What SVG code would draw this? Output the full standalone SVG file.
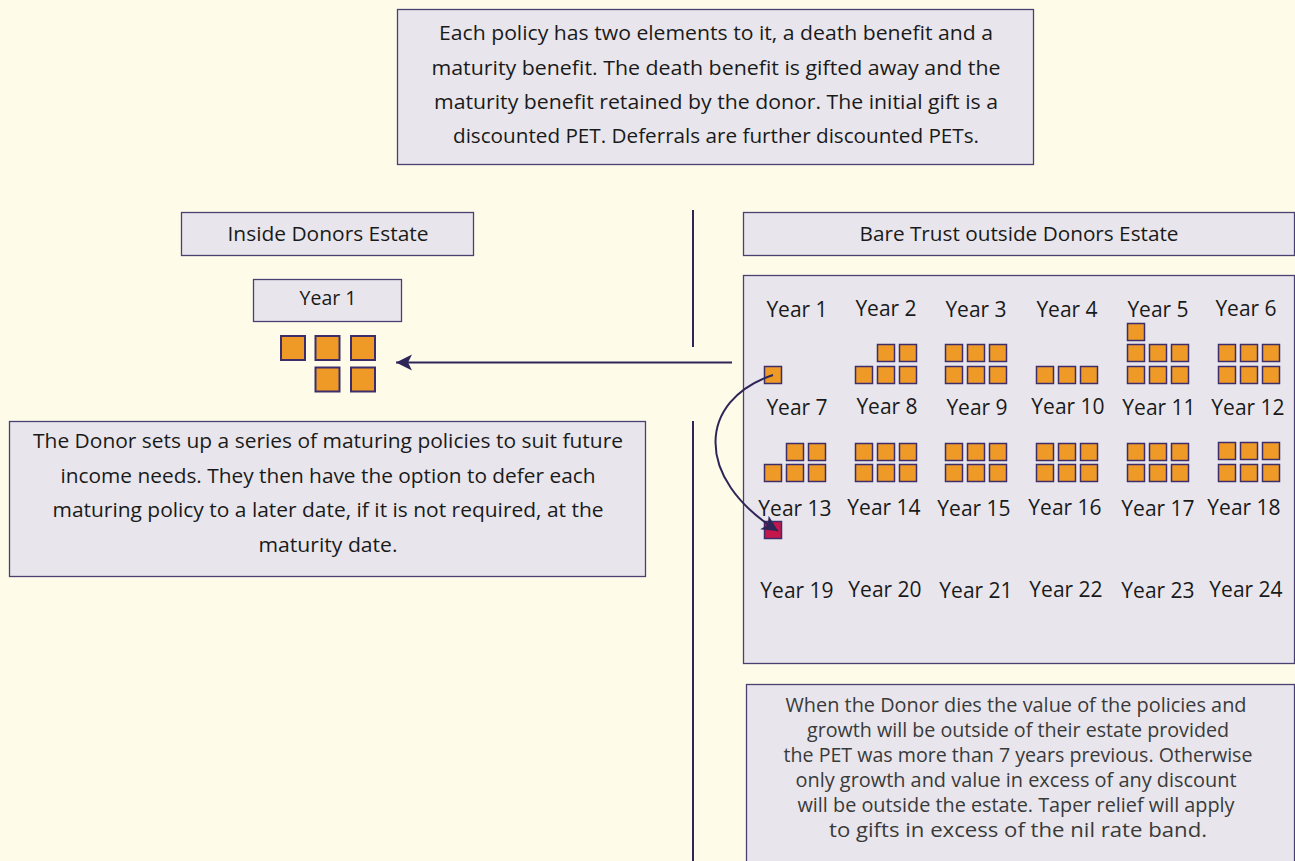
<svg xmlns="http://www.w3.org/2000/svg" width="1295" height="861" viewBox="0 0 1295 861">
<style>
.box{fill:#E8E6EC;stroke:#4A4172;stroke-width:1.3}
.t{font-family:"Open Sans","Liberation Sans",sans-serif;fill:#1A1A1A;text-anchor:middle}
.body{font-size:19.5px}
.soft{font-size:19.5px;fill:#3A3A3A}
.yr{font-size:21px}
.sq{fill:#EF9A26;stroke:#3D2E6B;stroke-width:1.5}
.big{fill:#EF9A26;stroke:#3D2E6B;stroke-width:2}
.red{fill:#C4174B;stroke:#3D2E6B;stroke-width:1.5}
.ln{stroke:#2E2558;stroke-width:2;fill:none}
</style>
<defs>
<marker id="ah" markerUnits="userSpaceOnUse" markerWidth="20" markerHeight="20" viewBox="-1 -10 20 20" refX="16" refY="0" orient="auto">
<path d="M0,-8 L16,0 L0,8 L4,0 Z" fill="#2E2558"/>
</marker>
</defs>
<rect width="1295" height="861" fill="#FEFCE9"/>

<g id="intro">
<rect class="box" x="397.5" y="9.5" width="636" height="155"/>
<text class="t body" x="716" y="40" textLength="554" lengthAdjust="spacingAndGlyphs">Each policy has two elements to it, a death benefit and a</text>
<text class="t body" x="716" y="75" textLength="569" lengthAdjust="spacingAndGlyphs">maturity benefit. The death benefit is gifted away and the</text>
<text class="t body" x="716" y="109" textLength="564" lengthAdjust="spacingAndGlyphs">maturity benefit retained by the donor. The initial gift is a</text>
<text class="t body" x="716" y="143" textLength="526" lengthAdjust="spacingAndGlyphs">discounted PET. Deferrals are further discounted PETs.</text>
</g>

<g id="dividers">
<line class="ln" x1="693" y1="210" x2="693" y2="347"/>
<line class="ln" x1="693" y1="421" x2="693" y2="861"/>
</g>

<g id="inside-header">
<rect class="box" x="181.5" y="212.5" width="292" height="43"/>
<text class="t body" x="328" y="241" textLength="201" lengthAdjust="spacingAndGlyphs">Inside Donors Estate</text>
</g>

<g id="bare-header">
<rect class="box" x="743.5" y="212.5" width="551" height="43"/>
<text class="t body" x="1019" y="241" textLength="319" lengthAdjust="spacingAndGlyphs">Bare Trust outside Donors Estate</text>
</g>

<g id="year1-inside">
<rect class="box" x="253.5" y="279.5" width="148" height="42"/>
<text class="t body" x="328" y="305">Year 1</text>
<rect class="big" x="281" y="336" width="24" height="24"/>
<rect class="big" x="315.5" y="336" width="24" height="24"/>
<rect class="big" x="351" y="336" width="24" height="24"/>
<rect class="big" x="315.5" y="367.5" width="24" height="24"/>
<rect class="big" x="351" y="367.5" width="24" height="24"/>
</g>

<g id="donor-note">
<rect class="box" x="9.5" y="421.5" width="636" height="155"/>
<text class="t body" x="328" y="448" textLength="590" lengthAdjust="spacingAndGlyphs">The Donor sets up a series of maturing policies to suit future</text>
<text class="t body" x="328" y="483" textLength="535" lengthAdjust="spacingAndGlyphs">income needs. They then have the option to defer each</text>
<text class="t body" x="328" y="517" textLength="551" lengthAdjust="spacingAndGlyphs">maturing policy to a later date, if it is not required, at the</text>
<text class="t body" x="328" y="552" textLength="139" lengthAdjust="spacingAndGlyphs">maturity date.</text>
</g>

<g id="trust-grid">
<rect class="box" x="743.5" y="275.5" width="551" height="388"/>
<g class="t yr">
<text x="797" y="317">Year 1</text>
<text x="886" y="316">Year 2</text>
<text x="976" y="317">Year 3</text>
<text x="1067" y="317">Year 4</text>
<text x="1158" y="317">Year 5</text>
<text x="1246" y="316">Year 6</text>
<text x="797" y="415">Year 7</text>
<text x="887" y="414">Year 8</text>
<text x="977" y="415">Year 9</text>
<text x="1068" y="414">Year 10</text>
<text x="1159" y="415">Year 11</text>
<text x="1248" y="415">Year 12</text>
<text x="795" y="516">Year 13</text>
<text x="884" y="515">Year 14</text>
<text x="974" y="516">Year 15</text>
<text x="1065" y="515">Year 16</text>
<text x="1158" y="516">Year 17</text>
<text x="1244" y="515">Year 18</text>
<text x="797" y="598">Year 19</text>
<text x="885" y="597">Year 20</text>
<text x="976" y="598">Year 21</text>
<text x="1066" y="597">Year 22</text>
<text x="1158" y="598">Year 23</text>
<text x="1246" y="597">Year 24</text>
</g>
<g id="squares">
<rect class="sq" x="764.5" y="366.5" width="17" height="17"/>
<rect class="sq" x="855.5" y="366.5" width="17" height="17"/>
<rect class="sq" x="877.5" y="366.5" width="17" height="17"/>
<rect class="sq" x="899.5" y="366.5" width="17" height="17"/>
<rect class="sq" x="877.5" y="344.5" width="17" height="17"/>
<rect class="sq" x="899.5" y="344.5" width="17" height="17"/>
<rect class="sq" x="945.5" y="344.5" width="17" height="17"/>
<rect class="sq" x="967.5" y="344.5" width="17" height="17"/>
<rect class="sq" x="989.5" y="344.5" width="17" height="17"/>
<rect class="sq" x="945.5" y="366.5" width="17" height="17"/>
<rect class="sq" x="967.5" y="366.5" width="17" height="17"/>
<rect class="sq" x="989.5" y="366.5" width="17" height="17"/>
<rect class="sq" x="1036.5" y="366.5" width="17" height="17"/>
<rect class="sq" x="1058.5" y="366.5" width="17" height="17"/>
<rect class="sq" x="1080.5" y="366.5" width="17" height="17"/>
<rect class="sq" x="1127.5" y="323.5" width="17" height="17"/>
<rect class="sq" x="1127.5" y="344.5" width="17" height="17"/>
<rect class="sq" x="1149.5" y="344.5" width="17" height="17"/>
<rect class="sq" x="1171.5" y="344.5" width="17" height="17"/>
<rect class="sq" x="1127.5" y="366.5" width="17" height="17"/>
<rect class="sq" x="1149.5" y="366.5" width="17" height="17"/>
<rect class="sq" x="1171.5" y="366.5" width="17" height="17"/>
<rect class="sq" x="1218.5" y="344.5" width="17" height="17"/>
<rect class="sq" x="1240.5" y="344.5" width="17" height="17"/>
<rect class="sq" x="1262.5" y="344.5" width="17" height="17"/>
<rect class="sq" x="1218.5" y="366.5" width="17" height="17"/>
<rect class="sq" x="1240.5" y="366.5" width="17" height="17"/>
<rect class="sq" x="1262.5" y="366.5" width="17" height="17"/>

<rect class="sq" x="764.5" y="464.5" width="17" height="17"/>
<rect class="sq" x="786.5" y="464.5" width="17" height="17"/>
<rect class="sq" x="808.5" y="464.5" width="17" height="17"/>
<rect class="sq" x="786.5" y="443.5" width="17" height="17"/>
<rect class="sq" x="808.5" y="443.5" width="17" height="17"/>
<rect class="sq" x="855.5" y="443.5" width="17" height="17"/>
<rect class="sq" x="877.5" y="443.5" width="17" height="17"/>
<rect class="sq" x="899.5" y="443.5" width="17" height="17"/>
<rect class="sq" x="855.5" y="464.5" width="17" height="17"/>
<rect class="sq" x="877.5" y="464.5" width="17" height="17"/>
<rect class="sq" x="899.5" y="464.5" width="17" height="17"/>
<rect class="sq" x="945.5" y="443.5" width="17" height="17"/>
<rect class="sq" x="967.5" y="443.5" width="17" height="17"/>
<rect class="sq" x="989.5" y="443.5" width="17" height="17"/>
<rect class="sq" x="945.5" y="464.5" width="17" height="17"/>
<rect class="sq" x="967.5" y="464.5" width="17" height="17"/>
<rect class="sq" x="989.5" y="464.5" width="17" height="17"/>
<rect class="sq" x="1036.5" y="443.5" width="17" height="17"/>
<rect class="sq" x="1058.5" y="443.5" width="17" height="17"/>
<rect class="sq" x="1080.5" y="443.5" width="17" height="17"/>
<rect class="sq" x="1036.5" y="464.5" width="17" height="17"/>
<rect class="sq" x="1058.5" y="464.5" width="17" height="17"/>
<rect class="sq" x="1080.5" y="464.5" width="17" height="17"/>
<rect class="sq" x="1127.5" y="443.5" width="17" height="17"/>
<rect class="sq" x="1149.5" y="443.5" width="17" height="17"/>
<rect class="sq" x="1171.5" y="443.5" width="17" height="17"/>
<rect class="sq" x="1127.5" y="464.5" width="17" height="17"/>
<rect class="sq" x="1149.5" y="464.5" width="17" height="17"/>
<rect class="sq" x="1171.5" y="464.5" width="17" height="17"/>
<rect class="sq" x="1218.5" y="442.5" width="17" height="17"/>
<rect class="sq" x="1240.5" y="442.5" width="17" height="17"/>
<rect class="sq" x="1262.5" y="442.5" width="17" height="17"/>
<rect class="sq" x="1218.5" y="464.5" width="17" height="17"/>
<rect class="sq" x="1240.5" y="464.5" width="17" height="17"/>
<rect class="sq" x="1262.5" y="464.5" width="17" height="17"/>

<rect class="red" x="764.5" y="521.5" width="17" height="17"/>
</g>
</g>

<g id="death-note">
<rect class="box" x="746.5" y="684.5" width="548" height="190"/>
<text class="t soft" x="1016" y="712" textLength="461" lengthAdjust="spacingAndGlyphs">When the Donor dies the value of the policies and</text>
<text class="t soft" x="1018" y="737" textLength="422" lengthAdjust="spacingAndGlyphs">growth will be outside of their estate provided</text>
<text class="t soft" x="1018" y="762" textLength="469" lengthAdjust="spacingAndGlyphs">the PET was more than 7 years previous. Otherwise</text>
<text class="t soft" x="1016" y="787" textLength="441" lengthAdjust="spacingAndGlyphs">only growth and value in excess of any discount</text>
<text class="t soft" x="1016" y="812" textLength="437" lengthAdjust="spacingAndGlyphs">will be outside the estate. Taper relief will apply</text>
<text class="t soft" x="1018" y="837" textLength="378" lengthAdjust="spacingAndGlyphs">to gifts in excess of the nil rate band.</text>
</g>

<g id="connectors">
<line class="ln" x1="732" y1="362.5" x2="396" y2="362.5" marker-end="url(#ah)"/>
<path class="ln" d="M773,375 C698,400 693,478 778,531" marker-end="url(#ah)"/>
</g>
</svg>
